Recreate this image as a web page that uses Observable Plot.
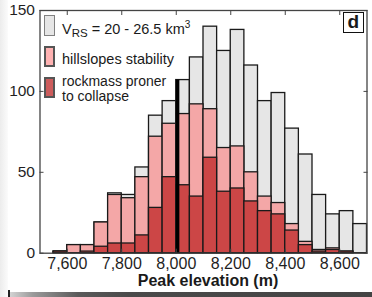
<!DOCTYPE html>
<html><head><meta charset="utf-8">
<script src="https://cdn.jsdelivr.net/npm/d3@7"></script>
<script src="https://cdn.jsdelivr.net/npm/@observablehq/plot@0.6"></script>
<style>
html,body{margin:0;padding:0;background:#fff;}
#wrap{position:relative;width:372px;height:297px;overflow:hidden;font-family:"Liberation Sans",Arial,sans-serif;color:#1a1a1a;}
#wrap svg{position:absolute;left:0;top:0;}
.sw{position:absolute;box-sizing:border-box;}
.lt{position:absolute;font-size:14.5px;line-height:13px;height:13px;white-space:nowrap;}
#xlabel{position:absolute;left:0;width:416px;text-align:center;top:272px;font-weight:bold;font-size:16px;}
#panel{position:absolute;left:343px;top:12px;width:20.5px;height:21px;box-sizing:border-box;border:1.5px solid #111;background:#fff;font-weight:bold;font-size:19px;line-height:18px;text-align:center;}
#strip{position:absolute;left:8px;top:292px;width:364px;height:5px;background:linear-gradient(to right,#d8d8d8 0px,#9a9a9a 25px,#5a5a5a 70px,#4a4a4a 120px,#444 364px);}
#stripEdge{position:absolute;left:8px;top:290px;width:1.5px;height:7px;background:#222;}
#leftEdge{position:absolute;left:0;top:0;width:8px;height:297px;background:linear-gradient(to right,#ececec,#fbfbfb);}
</style></head><body><div id="wrap"></div>
<script>
// Histogram bins (start of each 50 m bin) and counts
const binStart = [7550,7600,7650,7700,7750,7800,7850,7900,7950,8000,8050,8100,8150,8200,8250,8300,8350,8400,8450,8500,8550,8600,8650];
const binWidth = 50;
const totalCounts     = [1,5,5,19,37,36,53,85,94,107,121,140,125,138,116,94,99,77,61,36,24,26,18];
const hillslopeCounts = [1,5,5,19,36,34,47,72,80,86,92,89,65,66,50,35,31,18,7,2,3,1,0];
const rockmassCounts  = [1,0,1,4,6,6,11,28,47,42,35,59,38,40,32,26,24,14,5,1,2,1,0];
const refLine = [{x: 8005, top: 107}];
const xTicks = [7600,7800,8000,8200,8400,8600];
const xTickLabels = ["7,600","7,800","8,000","8,200","8,400","8,600"];
const yTicks = [0,50,100,150];
const yTickLabels = ["0","50","100","150"];
const seriesNames = ["total","hill","rock"];

const rows = binStart.map((b,i)=>({x1:b, x2:b+binWidth, total: totalCounts[i], hill: hillslopeCounts[i], rock: rockmassCounts[i]}));
const fills = {total:"#e6e6e6", hill:"#f4a7a7", rock:"#cc4646"};

const chart = Plot.plot({
  width: 372, height: 297,
  marginLeft: 39.5, marginRight: 5.5, marginTop: 10, marginBottom: 44.3,
  x: {domain: [7500, 8700]},
  y: {domain: [0, 150]},
  style: {fontFamily: "'Liberation Sans', Arial, sans-serif", fontSize: "15.5px", color: "#1f1f1f", background: "transparent"},
  marks: [
    ...seriesNames.map(k => Plot.rect(rows, {x1: "x1", x2: "x2", y1: 0, y2: k, fill: fills[k], stroke: "#1a1a1a", strokeWidth: 1.3})),
    Plot.ruleX(refLine, {x: "x", y1: 0, y2: "top", stroke: "#000", strokeWidth: 3.5}),
    Plot.frame({stroke: "#444", strokeWidth: 1.3}),
    Plot.axisX({ticks: xTicks, tickSize: 0, tickPadding: 4, fontSize: 16, tickFormat: d => xTickLabels[xTicks.indexOf(d)], label: null}),
    Plot.axisY({ticks: yTicks, tickSize: 0, tickPadding: 5, fontSize: 15.5, tickFormat: d => yTickLabels[yTicks.indexOf(d)], label: null}),
    Plot.axisX({anchor: "bottom", ticks: xTicks, tickSize: -4, tickFormat: () => "", label: null, stroke: "#444"}),
    Plot.axisX({anchor: "top", ticks: xTicks, tickSize: -4, tickFormat: () => "", label: null, stroke: "#444"}),
    Plot.axisY({anchor: "left", ticks: yTicks, tickSize: -4, tickFormat: () => "", label: null, stroke: "#444"}),
    Plot.axisY({anchor: "right", ticks: yTicks, tickSize: -4, tickFormat: () => "", label: null, stroke: "#444"})
  ]
});
const wrap = document.getElementById("wrap");
wrap.innerHTML = '<div id="leftEdge"></div>';
wrap.appendChild(chart);

// Legend
const legendSwatches = [
  {fill:"#e6e6e6", border:"#808080", bw:1.5, top:14.5},
  {fill:"#ffb2b2", border:"#555", bw:2.5, top:46},
  {fill:"#cd5c5c", border:"#555", bw:2.5, top:77}
];
const legendLines = [
  {html:'V<sub style="font-size:11.5px;position:relative;top:3.5px;vertical-align:baseline">RS</sub> = 20 - 26.5 km<sup style="font-size:10px;position:relative;top:-6px;vertical-align:baseline">3</sup>', top:22.5, size:14.5},
  {html:'hillslopes stability', top:52.5, size:14.5},
  {html:'rockmass proner', top:75, size:14},
  {html:'to collapse', top:90, size:14}
];
legendSwatches.forEach(it=>{
  const s=document.createElement("div");
  s.className="sw";
  Object.assign(s.style,{left:"44px",top:it.top+"px",width:"10.5px",height:"21px",background:it.fill,border:it.bw+"px solid "+it.border});
  wrap.appendChild(s);
});
legendLines.forEach(it=>{
  const t=document.createElement("div");
  t.className="lt";
  t.style.left="62px"; t.style.top=it.top+"px"; t.style.fontSize=it.size+"px";
  t.innerHTML=it.html;
  wrap.appendChild(t);
});
const xl=document.createElement("div"); xl.id="xlabel"; xl.textContent="Peak elevation (m)"; wrap.appendChild(xl);
const pn=document.createElement("div"); pn.id="panel"; pn.textContent="d"; wrap.appendChild(pn);
const st=document.createElement("div"); st.id="strip"; wrap.appendChild(st);
const se=document.createElement("div"); se.id="stripEdge"; wrap.appendChild(se);
</script></body></html>
